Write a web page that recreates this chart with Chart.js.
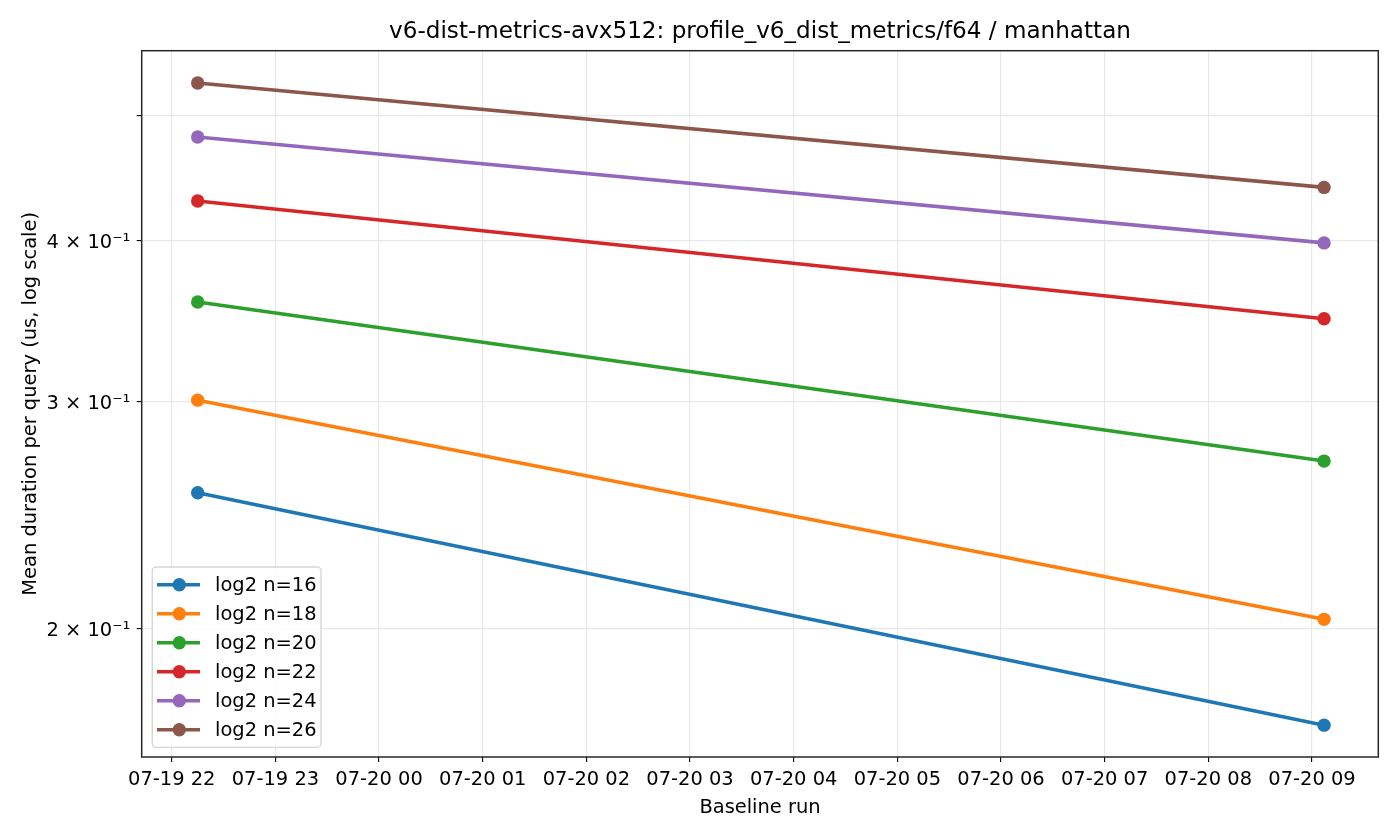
<!DOCTYPE html>
<html><head><meta charset="utf-8">
<script src="https://cdn.jsdelivr.net/npm/chart.js@4/dist/chart.umd.min.js"></script>
<style>html,body{margin:0;padding:0;background:#fff}canvas{display:block}</style>
</head><body>
<canvas id="c" width="1400" height="840"></canvas>
<script>
// ---- data ----
const runTimes = ['07-19 22:15', '07-20 09:07'];
const seriesLabels = ['log2 n=16', 'log2 n=18', 'log2 n=20', 'log2 n=22', 'log2 n=24', 'log2 n=26'];
const n16 = [0.2548, 0.1682];
const n18 = [0.3006, 0.2032];
const n20 = [0.3582, 0.2696];
const n22 = [0.4291, 0.3477];
const n24 = [0.4810, 0.3981];
const n26 = [0.5297, 0.4396];
const xTickLabels = ['07-19 22', '07-19 23', '07-20 00', '07-20 01', '07-20 02', '07-20 03',
                     '07-20 04', '07-20 05', '07-20 06', '07-20 07', '07-20 08', '07-20 09'];
const yTickValues = [0.2, 0.3, 0.4, 0.5];
const yTickLabels = ['2 × 10⁻¹', '3 × 10⁻¹', '4 × 10⁻¹', ''];
const chartTitle = 'v6-dist-metrics-avx512: profile_v6_dist_metrics/f64 / manhattan';
const xTitle = 'Baseline run';
const yTitle = 'Mean duration per query (us, log scale)';

// ---- styles ----
const colors = ['#1f77b4', '#ff7f0e', '#2ca02c', '#d62728', '#9467bd', '#8c564b'];
const FONT = 'DejaVu Sans';
const FS = 19.44;
const LW = 3.6;
const PR = 6.7;

function toHours(s) {
  const [md, hm] = s.split(' ');
  const [mo, d] = md.split('-').map(Number);
  const [h, m] = hm.split(':').map(Number);
  return (d - 19) * 24 + h + m / 60 - 22;
}
const runHours = runTimes.map(toHours);
const allSeries = [n16, n18, n20, n22, n24, n26];

const datasets = allSeries.map((vals, k) => ({
  label: seriesLabels[k],
  data: vals.map((v, i) => ({ x: runHours[i], y: v })),
  borderColor: colors[k],
  backgroundColor: colors[k],
  borderWidth: LW,
  pointRadius: PR,
  pointHoverRadius: PR,
  pointBorderWidth: 0,
  pointBackgroundColor: colors[k],
  tension: 0,
  clip: false
}));

const bgPlugin = {
  id: 'bg',
  beforeDraw(chart) {
    const ctx = chart.ctx;
    ctx.save();
    ctx.fillStyle = '#fff';
    ctx.fillRect(0, 0, chart.width, chart.height);
    ctx.restore();
  }
};

const framePlugin = {
  id: 'frameLegend',
  afterDatasetsDraw(chart) {
    const ctx = chart.ctx;
    const ca = chart.chartArea;
    ctx.save();
    // frame
    ctx.strokeStyle = '#262626';
    ctx.lineWidth = 1.5;
    ctx.strokeRect(ca.left, ca.top, ca.right - ca.left, ca.bottom - ca.top);
    // title centred over the plot area
    ctx.fillStyle = '#000';
    ctx.font = '23.1px "' + FONT + '"';
    ctx.textAlign = 'center';
    ctx.textBaseline = 'alphabetic';
    ctx.fillText(chartTitle, (ca.left + ca.right) / 2, 38.3);
    // legend
    const bx = ca.left + 10.6, bw = 168.7, bh = 180.4;
    const by = ca.bottom - 9.6 - bh;
    ctx.beginPath();
    ctx.roundRect(bx, by, bw, bh, 4);
    ctx.fillStyle = 'rgba(255,255,255,0.8)';
    ctx.fill();
    ctx.strokeStyle = '#d6d6d6';
    ctx.lineWidth = 1.4;
    ctx.stroke();
    chart.data.datasets.forEach((ds, i) => {
      const yy = by + 17.7 + i * 29;
      ctx.strokeStyle = ds.borderColor;
      ctx.lineWidth = LW;
      ctx.beginPath();
      ctx.moveTo(bx + 4.7, yy);
      ctx.lineTo(bx + 47.7, yy);
      ctx.stroke();
      ctx.fillStyle = ds.borderColor;
      ctx.beginPath();
      ctx.arc(bx + 27, yy, PR, 0, Math.PI * 2);
      ctx.fill();
      ctx.fillStyle = '#000';
      ctx.font = FS + 'px "' + FONT + '"';
      ctx.textAlign = 'left';
      ctx.textBaseline = 'alphabetic';
      ctx.fillText(ds.label, bx + 62.7, yy + 6);
    });
    ctx.restore();
  }
};

new Chart(document.getElementById('c'), {
  type: 'line',
  data: { datasets },
  options: {
    responsive: false,
    devicePixelRatio: 1,
    animation: false,
    events: [],
    layout: { padding: { left: 0, right: 21.7, top: 50.7, bottom: 0 } },
    plugins: {
      legend: { display: false },
      tooltip: { enabled: false },
      title: { display: false }
    },
    scales: {
      x: {
        type: 'linear',
        min: -0.29,
        max: 11.64,
        afterBuildTicks: s => { s.ticks = xTickLabels.map((_, i) => ({ value: i })); },
        afterFit: s => { s.height = 83; },
        ticks: {
          autoSkip: false,
          maxRotation: 0,
          minRotation: 0,
          color: '#000',
          padding: 6.5,
          font: { family: FONT, size: FS },
          callback: v => xTickLabels[Math.round(v)]
        },
        grid: { color: '#e8e8e8', lineWidth: 1.2, tickColor: '#000', tickLength: 5, tickWidth: 1.1 },
        border: { display: false },
        title: {
          display: true, text: xTitle, color: '#000',
          font: { family: FONT, size: FS },
          padding: { top: 0, bottom: 20.8 }
        }
      },
      y: {
        type: 'logarithmic',
        min: 0.1589,
        max: 0.5612,
        afterBuildTicks: s => { s.ticks = yTickValues.map(v => ({ value: v })); },
        afterFit: s => { s.width = 141.7; },
        ticks: {
          color: '#000',
          padding: 6.5,
          labelOffset: 2.5,
          font: { family: FONT, size: FS },
          callback: (v) => {
            const i = yTickValues.findIndex(t => Math.abs(t - v) < 1e-9);
            return i >= 0 ? yTickLabels[i] : '';
          }
        },
        grid: { color: '#e8e8e8', lineWidth: 1.2, tickColor: '#000', tickLength: 5, tickWidth: 1.1 },
        border: { display: false },
        title: {
          display: true, text: yTitle, color: '#000',
          font: { family: FONT, size: FS },
          padding: { top: 19.5, bottom: 0 }
        }
      }
    }
  },
  plugins: [bgPlugin, framePlugin]
});
</script>
</body></html>
